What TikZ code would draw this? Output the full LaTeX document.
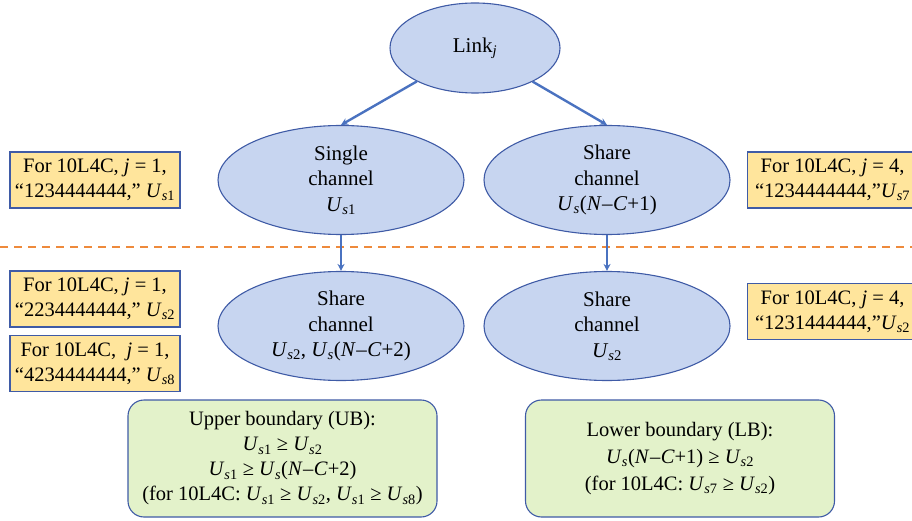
\documentclass[tikz,border=0pt]{standalone}
\usepackage{fontspec}
\setmainfont{Liberation Serif}
\usetikzlibrary{shapes.geometric,arrows.meta}

\definecolor{ellfill}{HTML}{C7D5F0}
\definecolor{edgeblue}{HTML}{3F5BA6}
\definecolor{arrblue}{HTML}{4A72C0}
\definecolor{noteyellow}{HTML}{FFE59C}
\definecolor{boundgreen}{HTML}{E3F2CA}
\definecolor{splitorange}{HTML}{EE8A3C}

% variables set in italic text
\newcommand{\Uvar}[1]{\textit{U}\textsubscript{\textit{s}#1}}
\newcommand{\Ubare}{\textit{U}\textsubscript{\textit{s}}}
\newcommand{\NC}[1]{(\textit{N}\kern0.5pt–\kern0.5pt\textit{C}+#1)}
\newcommand{\quot}[1]{“#1,”}

\tikzset{
  chan/.style={ellipse, draw=edgeblue, line width=1.1pt, fill=ellfill,
    minimum width=246pt, minimum height=109pt, inner sep=0pt,
    align=center, font=\fontsize{21}{25.5}\selectfont},
  note/.style={rectangle, draw=edgeblue, line width=1.1pt, fill=noteyellow,
    minimum width=170pt, minimum height=56pt, inner sep=2pt,
    align=center, font=\fontsize{20.5}{25}\selectfont},
  bound/.style={rectangle, rounded corners=16pt, draw=edgeblue, line width=1.1pt,
    fill=boundgreen, minimum width=309pt, minimum height=117pt, inner sep=2pt,
    align=center, font=\fontsize{20.5}{25}\selectfont},
  arr/.style={draw=arrblue, line width=2.4pt, -{Stealth[length=7pt,width=7pt]}},
  split/.style={draw=splitorange, line width=1.5pt, dash pattern=on 8pt off 6pt}
}

\begin{document}
\begin{tikzpicture}[x=1pt,y=-1pt]
\useasboundingbox (0,0) rectangle (912,521);
\clip (0,0) rectangle (912,521);

% dashed separator
\draw[split] (0,247) -- (912,247);

% tree of channels
\node[chan, minimum width=170pt, minimum height=90pt] (link) at (475,48) {Link\textsubscript{\textit{j}}};
\node[chan] (single) at (341,180) {Single\\channel\\\Uvar{1}};
\node[chan] (shareA) at (607,180) {Share\\channel\\\Ubare\NC{1}};
\node[chan] (shareB) at (341,326) {Share\\channel\\\Uvar{2}, \Ubare\NC{2}};
\node[chan] (shareC) at (607,326) {Share\\channel\\\Uvar{2}};

\draw[arr] (link) -- (single.north);
\draw[arr] (link) -- (shareA.north);
\draw[arr] (single.south) -- (shareB.north);
\draw[arr] (shareA.south) -- (shareC.north);

% example notes
\node[note] (n1) at (95,180) {For 10L4C, \textit{j} = 1,\\\quot{1234444444} \Uvar{1}};
\node[note] (n2) at (95,299) {For 10L4C, \textit{j} = 1,\\\quot{2234444444} \Uvar{2}};
\node[note] (n3) at (95,363.5) {For 10L4C, \ \textit{j} = 1,\\\quot{4234444444} \Uvar{8}};
\node[note, anchor=west] (n4) at (747,180) {For 10L4C, \textit{j} = 4,\\\quot{1234444444}\Uvar{7}};
\node[note, anchor=west] (n5) at (747,311.5) {For 10L4C, \textit{j} = 4,\\\quot{1231444444}\Uvar{2}};

% boundaries
\node[bound] (ub) at (282.5,458.5) {Upper boundary (UB):\\\Uvar{1} ≥ \Uvar{2}\\\Uvar{1} ≥ \Ubare\NC{2}\\(for 10L4C: \Uvar{1} ≥ \Uvar{2}, \Uvar{1} ≥ \Uvar{8})};
\node[bound, font=\fontsize{20.5}{27}\selectfont] (lb) at (680,458.5) {Lower boundary (LB):\\\Ubare\NC{1} ≥ \Uvar{2}\\(for 10L4C: \Uvar{7} ≥ \Uvar{2})};
\end{tikzpicture}
\end{document}
